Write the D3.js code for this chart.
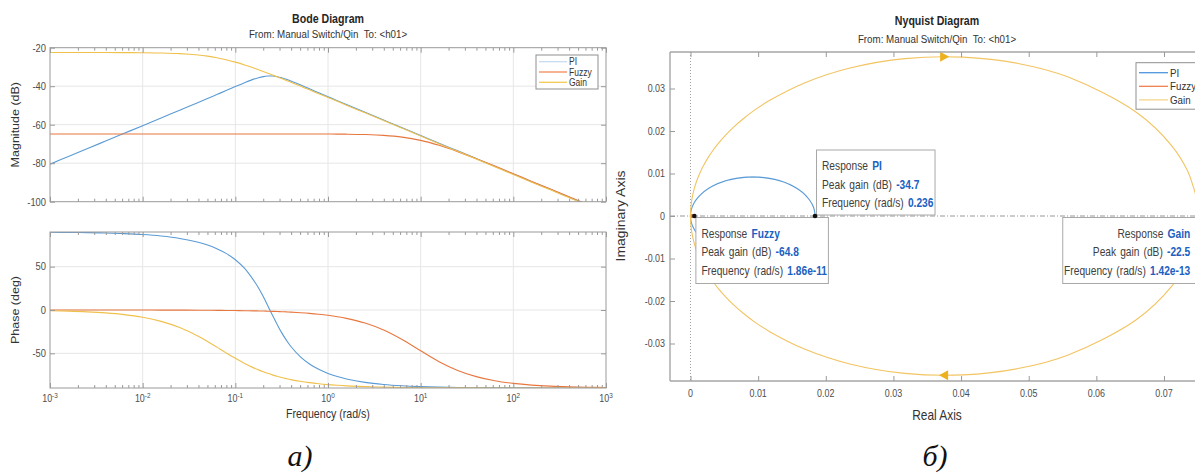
<!DOCTYPE html>
<html><head><meta charset="utf-8">
<script src="https://cdn.jsdelivr.net/npm/d3@7/dist/d3.min.js"></script>
<style>html,body{margin:0;padding:0;background:#fff;overflow:hidden}svg{display:block}text{white-space:pre}</style>
</head><body><svg id="chart" width="1195" height="473"></svg>
<script>
// ---------------- data ----------------
const seriesNames = ["PI", "Fuzzy", "Gain"];
const freq = [0.001,0.00158,0.00251,0.00398,0.00631,0.01,0.0158,0.0251,0.0398,0.0501,0.0631,0.0794,0.1,0.126,0.158,0.178,0.2,0.224,0.251,0.282,0.316,0.355,0.398,0.501,0.631,0.794,1,1.26,1.58,2.51,3.98,6.31,10,15.8,25.1,39.8,63.1,100,158,251,398,631,1000];
const magPI = [-80.50,-76.50,-72.50,-68.50,-64.50,-60.49,-56.49,-52.47,-48.43,-46.40,-44.35,-42.29,-40.21,-38.18,-36.33,-35.58,-35.02,-34.73,-34.74,-35.06,-35.63,-36.40,-37.29,-39.27,-41.33,-43.41,-45.46,-47.51,-49.53,-53.56,-57.57,-61.58,-65.58,-69.58,-73.58,-77.58,-81.58,-85.58,-89.58,-93.58,-97.58,-101.58,-105.58];
const magFuzzy = [-64.80,-64.80,-64.80,-64.80,-64.80,-64.80,-64.80,-64.80,-64.80,-64.80,-64.80,-64.80,-64.80,-64.80,-64.80,-64.80,-64.80,-64.80,-64.80,-64.80,-64.81,-64.81,-64.81,-64.81,-64.82,-64.83,-64.85,-64.88,-64.92,-65.11,-65.53,-66.44,-68.14,-70.72,-73.99,-77.66,-81.52,-85.47,-89.45,-93.43,-97.43,-101.43,-105.43];
const magGain = [-22.50,-22.50,-22.51,-22.51,-22.54,-22.59,-22.73,-23.06,-23.78,-24.38,-25.20,-26.24,-27.50,-28.96,-30.59,-31.44,-32.33,-33.23,-34.16,-35.10,-36.05,-37.01,-37.97,-39.93,-41.90,-43.88,-45.87,-47.86,-49.86,-53.85,-57.85,-61.85,-65.85,-69.85,-73.85,-77.85,-81.85,-85.85,-89.85,-93.85,-97.85,-101.85,-105.85];
const phasePI = [89.71,89.53,89.26,88.83,88.15,87.06,85.33,82.58,78.14,74.94,70.79,65.34,58.00,47.95,34.04,25.37,15.58,4.99,-5.89,-16.43,-26.13,-34.71,-42.12,-53.79,-62.24,-68.48,-73.16,-76.77,-79.56,-83.46,-85.88,-87.40,-88.36,-88.97,-89.35,-89.59,-89.74,-89.84,-89.90,-89.94,-89.96,-89.97,-89.98];
const phaseFuzzy = [-0.01,-0.01,-0.02,-0.02,-0.04,-0.06,-0.10,-0.15,-0.24,-0.31,-0.39,-0.49,-0.61,-0.78,-0.97,-1.10,-1.23,-1.38,-1.54,-1.74,-1.95,-2.19,-2.44,-3.09,-3.86,-4.88,-6.14,-7.71,-9.67,-15.11,-23.17,-34.14,-47.07,-59.60,-69.68,-76.85,-81.61,-84.68,-86.64,-87.88,-88.66,-89.15,-89.47];
const phaseGain = [-0.84,-1.34,-2.12,-3.35,-5.30,-8.37,-13.12,-20.27,-30.35,-36.40,-42.86,-49.44,-55.79,-61.63,-66.78,-69.08,-71.18,-73.10,-74.85,-76.44,-77.87,-79.15,-80.31,-82.27,-83.85,-85.11,-86.11,-86.91,-87.54,-88.45,-89.02,-89.38,-89.61,-89.75,-89.84,-89.90,-89.94,-89.96,-89.98,-89.98,-89.99,-89.99,-90.00];
const freqDecades = [-3,-2,-1,0,1,2,3];
const magTicks = [-100,-80,-60,-40,-20];
const phaseTicks = [-50,0,50];
const realTicks = [0,0.01,0.02,0.03,0.04,0.05,0.06,0.07];
const imagTicks = [-0.03,-0.02,-0.01,0,0.01,0.02,0.03];
const peakGainDB = [-34.7,-64.8,-22.5];
const peakFreqLabel = ["0.236","1.86e-11","1.42e-13"];

// ---------------- styles ----------------
const svg = d3.select("#chart").attr("font-family", '"Liberation Sans", Arial, Helvetica, sans-serif');
const SX = 0.85;
const AX = "#9a9a9a", GRID = "#e6e6e6", TICKTXT = "#4d4d4d", LBL = "#333333";
const lineColor = {PI:"#5b9bd5", Fuzzy:"#e8773f", Gain:"#f0c04c"};
const bodeLegendColor = {PI:"#c6dcf2", Fuzzy:"#f08a55", Gain:"#f4c852"};
const nyqColor = {PI:"#5b9bd5", Fuzzy:"#e8773f", Gain:"#f2c462"};
const nyqLegendColor = {PI:"#4f95dc", Fuzzy:"#f08050", Gain:"#f6d58c"};

function txt(parent, x, y, s, o = {}) {
  const t = parent.append("text")
    .attr("transform", o.rot ? `translate(${x},${y}) rotate(-90) scale(1,${SX})` : `translate(${x},${y}) scale(${SX},1)`)
    .attr("text-anchor", o.anchor || "middle")
    .attr("font-size", o.size || 11)
    .attr("font-weight", o.weight || "normal")
    .attr("fill", o.fill || LBL);
  if (s !== null && s !== undefined) t.text(s);
  return t;
}
function styleAxis(sel) {
  sel.select(".domain").remove();
  sel.selectAll(".tick line").attr("stroke", AX);
  sel.selectAll(".tick text").remove();
}

// ---------------- Bode ----------------
const bx = d3.scaleLog().domain([1e-3, 1e3]).range([50, 606]);
const magY = d3.scaleLinear().domain([-100, -20]).range([201.7, 47.7]);
const phY = d3.scaleLinear().domain([-90, 90]).range([388, 232]);
const majorTicks = freqDecades.map(d => Math.pow(10, d));
const minorTicks = [];
freqDecades.slice(0, -1).forEach(d => { for (let k = 2; k <= 9; k++) minorTicks.push(k * Math.pow(10, d)); });

function bodePanel(y, yTicks, series, id) {
  const [yb, yt] = y.range();
  const [x0, x1] = bx.range();
  const g = svg.append("g");
  g.selectAll(null).data(majorTicks.slice(1, -1)).join("line")
    .attr("x1", d => bx(d)).attr("x2", d => bx(d)).attr("y1", yt).attr("y2", yb)
    .attr("stroke", GRID);
  g.selectAll(null).data(yTicks.filter(v => y(v) > yt + 1 && y(v) < yb - 1)).join("line")
    .attr("x1", x0).attr("x2", x1).attr("y1", d => y(d)).attr("y2", d => y(d))
    .attr("stroke", GRID);
  svg.append("clipPath").attr("id", id).append("rect")
    .attr("x", x0).attr("y", yt).attr("width", x1 - x0).attr("height", yb - yt);
  const line = d3.line().x((d, i) => bx(freq[i])).y(d => y(d)).curve(d3.curveCatmullRom.alpha(0.5));
  const lg = g.append("g").attr("clip-path", `url(#${id})`);
  series.forEach(s => lg.append("path").attr("d", line(s.values))
    .attr("fill", "none").attr("stroke", s.color).attr("stroke-width", 1.1));
  g.append("rect").attr("x", x0).attr("y", yt).attr("width", x1 - x0).attr("height", yb - yt)
    .attr("fill", "none").attr("stroke", AX);
  g.append("g").attr("transform", `translate(0,${yb})`).call(d3.axisBottom(bx).tickValues(minorTicks).tickSize(-3).tickFormat("")).call(styleAxis);
  g.append("g").attr("transform", `translate(0,${yt})`).call(d3.axisTop(bx).tickValues(minorTicks).tickSize(-3).tickFormat("")).call(styleAxis);
  g.append("g").attr("transform", `translate(0,${yb})`).call(d3.axisBottom(bx).tickValues(majorTicks).tickSize(-5).tickFormat("")).call(styleAxis);
  g.append("g").attr("transform", `translate(0,${yt})`).call(d3.axisTop(bx).tickValues(majorTicks).tickSize(-5).tickFormat("")).call(styleAxis);
  g.append("g").attr("transform", `translate(${x0},0)`).call(d3.axisLeft(y).tickValues(yTicks).tickSize(-5).tickFormat("")).call(styleAxis);
  g.append("g").attr("transform", `translate(${x1},0)`).call(d3.axisRight(y).tickValues(yTicks).tickSize(-5).tickFormat("")).call(styleAxis);
  yTicks.forEach(v => txt(g, x0 - 4, y(v) + 3.8, String(v), {anchor: "end", size: 11, fill: TICKTXT}));
  return g;
}

bodePanel(magY, magTicks, [
  {values: magPI, color: lineColor.PI},
  {values: magFuzzy, color: lineColor.Fuzzy},
  {values: magGain, color: lineColor.Gain}], "clipMag");
const phG = bodePanel(phY, phaseTicks, [
  {values: phasePI, color: lineColor.PI},
  {values: phaseFuzzy, color: lineColor.Fuzzy},
  {values: phaseGain, color: lineColor.Gain}], "clipPh");

freqDecades.forEach(d => {
  const t = txt(phG, bx(Math.pow(10, d)), 402, null, {size: 10.5, fill: TICKTXT});
  t.append("tspan").text("10");
  t.append("tspan").attr("dy", -4.5).attr("font-size", 7.5).text(String(d));
});
txt(svg, 328, 418, "Frequency (rad/s)", {size: 12.5});
txt(svg, 19, 124.7, "Magnitude (dB)", {size: 12.5, rot: true});
txt(svg, 19, 310, "Phase (deg)", {size: 12.5, rot: true});
txt(svg, 328, 22.5, "Bode Diagram", {size: 12.5, weight: "bold", fill: "#262626"});
txt(svg, 328, 37.5, "From: Manual Switch/Qin  To: <h01>", {size: 11.5, fill: "#333"});

// Bode legend
(function () {
  const lx = 536, ly = 55, lw = 62, lh = 34;
  const g = svg.append("g");
  g.append("rect").attr("x", lx).attr("y", ly).attr("width", lw).attr("height", lh).attr("fill", "#fff").attr("stroke", "#8f8f8f");
  seriesNames.forEach((n, i) => {
    const yy = ly + 6.7 + i * 10.3;
    g.append("line").attr("x1", lx + 3).attr("x2", lx + 31).attr("y1", yy).attr("y2", yy).attr("stroke", bodeLegendColor[n]).attr("stroke-width", 1.3);
    txt(g, lx + 33, yy + 3.5, n, {anchor: "start", size: 10, fill: "#333"});
  });
})();

// ---------------- Nyquist ----------------
const nx = d3.scaleLinear().domain([0, 0.07]).range([690.5, 1164]);
const ny = d3.scaleLinear().domain([-0.03, 0.03]).range([343.5, 88.5]);
const NB = {x0: 670, x1: 1204, y0: 52, y1: 381};
const ng = svg.append("g");
svg.append("clipPath").attr("id", "clipNyq").append("rect")
  .attr("x", NB.x0).attr("y", NB.y0).attr("width", NB.x1 - NB.x0).attr("height", NB.y1 - NB.y0);

ng.append("line").attr("x1", nx(0)).attr("x2", nx(0)).attr("y1", NB.y0).attr("y2", NB.y1)
  .attr("stroke", "#8c8c8c").attr("stroke-width", 0.8).attr("stroke-dasharray", "1,2");
ng.append("line").attr("x1", NB.x0).attr("x2", NB.x1).attr("y1", ny(0)).attr("y2", ny(0))
  .attr("stroke", "#8c8c8c").attr("stroke-width", 0.9).attr("stroke-dasharray", "5,2,1,2");

function polar(mag, ph) {
  return mag.map((m, i) => {
    const r = Math.pow(10, m / 20), a = ph[i] * Math.PI / 180;
    return [r * Math.cos(a), r * Math.sin(a)];
  });
}
const nyqLine = d3.line().x(d => nx(d[0])).y(d => ny(d[1])).curve(d3.curveCatmullRom.alpha(0.5));
const cg = ng.append("g").attr("clip-path", "url(#clipNyq)");
const nyqData = [
  {name: "PI", mag: magPI, ph: phasePI},
  {name: "Fuzzy", mag: magFuzzy, ph: phaseFuzzy},
  {name: "Gain", mag: magGain, ph: phaseGain}];
let gainPath = null;
nyqData.forEach(s => {
  const pos = polar(s.mag, s.ph);
  const neg = pos.map(([re, im]) => [re, -im]).reverse();
  const p = cg.append("path").attr("d", nyqLine(neg.concat(pos)))
    .attr("fill", "none").attr("stroke", nyqColor[s.name]).attr("stroke-width", s.name === "Fuzzy" ? 1.6 : 1.1);
  if (s.name === "Gain") gainPath = p.node();
});

(function () {
  const L = gainPath.getTotalLength();
  let top = null, bot = null;
  for (let i = 0; i <= 800; i++) {
    const pt = gainPath.getPointAtLength(L * i / 800);
    if (!top || pt.y < top.y) top = pt;
    if (!bot || pt.y > bot.y) bot = pt;
  }
  const col = "#edb120";
  ng.append("path").attr("d", `M${top.x - 4},${top.y - 5}L${top.x + 5},${top.y}L${top.x - 4},${top.y + 5}Z`).attr("fill", col);
  ng.append("path").attr("d", `M${bot.x + 4},${bot.y - 5}L${bot.x - 5},${bot.y}L${bot.x + 4},${bot.y + 5}Z`).attr("fill", col);
})();

ng.append("line").attr("x1", NB.x0).attr("x2", NB.x0).attr("y1", NB.y0).attr("y2", NB.y1).attr("stroke", "#a6a6a6").attr("stroke-width", 1.4);
ng.append("line").attr("x1", NB.x0).attr("x2", NB.x1).attr("y1", NB.y0).attr("y2", NB.y0).attr("stroke", "#a6a6a6").attr("stroke-width", 1.4);
ng.append("line").attr("x1", NB.x0).attr("x2", NB.x1).attr("y1", NB.y1).attr("y2", NB.y1).attr("stroke", "#a6a6a6").attr("stroke-width", 1.4);
ng.append("line").attr("x1", NB.x1).attr("x2", NB.x1).attr("y1", NB.y0).attr("y2", NB.y1).attr("stroke", "#a6a6a6").attr("stroke-width", 1.4);
ng.append("g").attr("transform", `translate(0,${NB.y1})`).call(d3.axisBottom(nx).tickValues(realTicks).tickSize(-5).tickFormat("")).call(styleAxis);
ng.append("g").attr("transform", `translate(0,${NB.y0})`).call(d3.axisTop(nx).tickValues(realTicks).tickSize(-5).tickFormat("")).call(styleAxis);
ng.append("g").attr("transform", `translate(${NB.x0},0)`).call(d3.axisLeft(ny).tickValues(imagTicks).tickSize(-5).tickFormat("")).call(styleAxis);
realTicks.forEach(v => txt(ng, nx(v), 397, String(v), {size: 10.5, fill: TICKTXT}));
imagTicks.forEach(v => txt(ng, NB.x0 - 5, ny(v) + 3.8, String(v), {anchor: "end", size: 10.5, fill: TICKTXT}));
txt(svg, 937, 420, "Real Axis", {size: 14});
txt(svg, 625, 216, "Imaginary Axis", {size: 14, rot: true});
txt(svg, 937, 25, "Nyquist Diagram", {size: 12.5, weight: "bold", fill: "#262626"});
txt(svg, 937, 42.5, "From: Manual Switch/Qin  To: <h01>", {size: 11.5, fill: "#333"});

(function () {
  const lx = 1136, ly = 62.7, lw = 64, lh = 46.5;
  const g = svg.append("g");
  g.append("rect").attr("x", lx).attr("y", ly).attr("width", lw).attr("height", lh).attr("fill", "#fff").attr("stroke", "#8f8f8f");
  seriesNames.forEach((n, i) => {
    const yy = ly + 10 + i * 13.6;
    g.append("line").attr("x1", lx + 3).attr("x2", lx + 32).attr("y1", yy).attr("y2", yy).attr("stroke", nyqLegendColor[n]).attr("stroke-width", 1.3);
    txt(g, lx + 34, yy + 4, n, {anchor: "start", size: 11.5, fill: "#333"});
  });
})();

function datatip(bxp, byp, w, h, i, align) {
  const g = svg.append("g");
  g.append("rect").attr("x", bxp).attr("y", byp).attr("width", w).attr("height", h)
    .attr("fill", "#fff").attr("stroke", "#a8a8a8");
  const lines = [["Response", seriesNames[i]], ["Peak gain (dB)", peakGainDB[i].toFixed(1)], ["Frequency (rad/s)", peakFreqLabel[i]]];
  const offs = [20, 38.5, 57];
  lines.forEach((ln, k) => {
    const tx = align === "end" ? bxp + w - 6 : bxp + 5.5;
    const t = txt(g, tx, byp + offs[k], null, {anchor: align, size: 12, fill: "#404040"});
    t.attr("word-spacing", 1.5);
    t.append("tspan").text(ln[0]);
    t.append("tspan").attr("dx", 5).attr("font-weight", "bold").attr("fill", "#2060c0").text(ln[1]);
  });
}
const markers = peakGainDB.map(db => ({x: nx(Math.pow(10, db / 20)), y: ny(0)}));
datatip(markers[0].x + 1.5, markers[0].y - 66, 118.5, 65, 0, "start");
datatip(markers[1].x + 1.5, markers[1].y + 1.5, 132.5, 66, 1, "start");
datatip(markers[2].x - 135, markers[2].y + 1.5, 133.5, 66, 2, "end");
markers.forEach(m => svg.append("circle").attr("cx", m.x).attr("cy", m.y).attr("r", 2.3).attr("fill", "#111"));

svg.append("text").attr("x", 300).attr("y", 466).attr("text-anchor", "middle")
  .attr("font-family", '"Liberation Serif", "Times New Roman", serif').attr("font-style", "italic")
  .attr("font-size", 30).attr("fill", "#111").text("а)");
svg.append("text").attr("x", 935).attr("y", 466).attr("text-anchor", "middle")
  .attr("font-family", '"Liberation Serif", "Times New Roman", serif').attr("font-style", "italic")
  .attr("font-size", 30).attr("fill", "#111").text("б)");
</script></body></html>
